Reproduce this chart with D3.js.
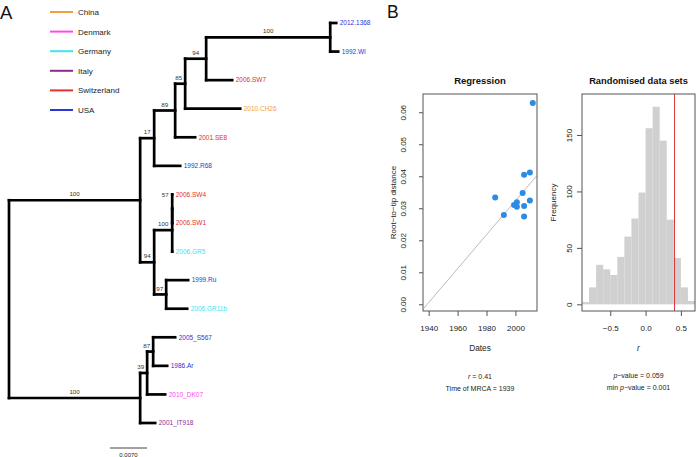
<!DOCTYPE html>
<html><head><meta charset="utf-8">
<script src="https://cdn.jsdelivr.net/npm/d3@7"></script>
<style>
body{margin:0;background:#fff}
svg{display:block;font-family:"Liberation Sans",Arial,Helvetica,sans-serif}
</style>
</head><body>
<svg id="c" width="696" height="457"></svg>
<script>
// ---------- DATA ----------
const treeNewick = "(((((((2012.1368:0.00114,1992.WI:0.00151)100:0.02346,2006.SW7:0.00492)94:0.00397,2010.CH26:0.01041)85:0.00189,2001.SE8:0.00378)89:0.00397,1992.R68:0.00492)17:0.00265,(((2006.SW4:0,2006.SW1:0)57:0,2006.GR5:0)100:0.00341,(1999.Ru:0.00416,2006.GR11b:0.00397)97:0.00227)94:0.00265)100:0.0248,(((2005_S567:0.00416,1986.Ar:0.00265)87:0.00114,2010_DK07:0.00341)39:0.00132,2001_IT918:0.00284)100:0.0248);";
const tipNames = ["2012.1368","1992.WI","2006.SW7","2010.CH26","2001.SE8","1992.R68","2006.SW4","2006.SW1","2006.GR5","1999.Ru","2006.GR11b","2005_S567","1986.Ar","2010_DK07","2001_IT918"];
const tipCountries = ["USA","USA","Switzerland","China","Switzerland","USA","Switzerland","Switzerland","Germany","USA","Germany","USA","USA","Denmark","Italy"];
const countries = ["China","Denmark","Germany","Italy","Switzerland","USA"];
const scaleBarLength = 0.0070;

const sampleYears = [2012, 1986, 1992, 1999, 2001, 2001, 2006, 2010, 2005, 2010, 2006, 2006];
const rootToTip   = [0.0629, 0.0334, 0.0279, 0.0310, 0.0319, 0.0305, 0.0405, 0.0412, 0.0348, 0.0324, 0.0307, 0.0274];
const yearTicks = [1940, 1960, 1980, 2000];
const distTicks = [0, 0.01, 0.02, 0.03, 0.04, 0.05, 0.06];
const mrcaYear = 1939;
const clockRate = 0.00053;
const correlationR = 0.41;

const binEdges  = [-0.9,-0.8,-0.7,-0.6,-0.5,-0.4,-0.3,-0.2,-0.1,0.0,0.1,0.2,0.3,0.4,0.5,0.6,0.7];
const binCounts = [2, 15, 35, 31, 26, 42, 60, 76, 99, 156, 175, 145, 75, 41, 15, 3];
const freqTicks = [0, 50, 100, 150];
const rTicks = [-0.5, 0.0, 0.5];
const pValue = 0.059;
const minPValue = 0.001;

// ---------- STYLE ----------
const palette = ["#f2a13a","#ff48f2","#3fe4f0","#8c2c90","#e2302b","#2a36d6"];
const colorOf = d3.scaleOrdinal(countries, palette);
const tipColor = new Map(tipNames.map((n,i)=>[n, colorOf(tipCountries[i])]));

const svg = d3.select("#c");

// ---------- Newick parser ----------
function parseNewick(s){
  let i = 0;
  function node(){
    const n = {children: []};
    if (s[i] === "("){
      i++;
      n.children.push(node());
      while (s[i] === ","){ i++; n.children.push(node()); }
      i++; // ')'
    }
    let label = "";
    while (i < s.length && !":,);".includes(s[i])) label += s[i++];
    let len = 0;
    if (s[i] === ":"){ i++; let num = ""; while (i < s.length && !",);".includes(s[i])) num += s[i++]; len = +num; }
    if (n.children.length) n.support = label; else { n.name = label; delete n.children; }
    n.length = len;
    return n;
  }
  return node();
}

// ---------- Panel A: tree ----------
const root = d3.hierarchy(parseNewick(treeNewick));
root.eachBefore(d => { d.cum = d.parent ? d.parent.cum + d.data.length : 0; });
const treeX = d3.scaleLinear().domain([0, 0.0624]).range([9, 339]);
const treeY = d3.scalePoint().domain(root.leaves().map(d=>d.data.name)).range([23, 423]);
root.eachAfter(d => {
  d.px = treeX(d.cum);
  d.py = d.children ? (d.children[0].py + d.children[d.children.length-1].py)/2 : treeY(d.data.name);
});

const gT = svg.append("g");
const branches = gT.append("g").attr("fill","none").attr("stroke","#000")
  .attr("stroke-width",2.7).attr("stroke-linecap","square");
root.descendants().forEach(d => {
  if (d.parent) branches.append("path").attr("d", `M${d.parent.px},${d.py}H${d.px}`);
  if (d.children) branches.append("path").attr("d", `M${d.px},${d.children[0].py}V${d.children[d.children.length-1].py}`);
});

// support labels
root.descendants().filter(d => d.parent && d.children && d.data.support).forEach(d => {
  const t = gT.append("text").attr("font-size",6.2).attr("fill","#333").text(d.data.support);
  if (d.data.length === 0){
    t.attr("x", d.px - 3.5).attr("y", d.children[0].py + 3).attr("text-anchor","end");
  } else {
    const w = t.node().getComputedTextLength();
    const mid = (d.parent.px + d.px)/2;
    const cx = Math.min(mid, d.px - 3 - w/2);
    t.attr("x", cx).attr("y", d.py - 3.8).attr("text-anchor","middle");
  }
});

// tip labels
gT.selectAll("text.tip").data(root.leaves()).join("text")
  .attr("class","tip")
  .attr("x", d => d.px + 3.5).attr("y", d => d.py + 2.3)
  .attr("font-size",6.5).attr("fill", d => tipColor.get(d.data.name))
  .text(d => d.data.name);

// legend
const legY = d3.scalePoint().domain(countries).range([12, 110]);
const leg = svg.append("g");
countries.forEach(c => {
  leg.append("line").attr("x1",50).attr("x2",73).attr("y1",legY(c)).attr("y2",legY(c))
    .attr("stroke",colorOf(c)).attr("stroke-width",2);
  leg.append("text").attr("x",78).attr("y",legY(c)+3).attr("font-size",8).attr("fill","#222").text(c);
});

// scale bar
const sbX = 110, sbY = 448;
svg.append("line").attr("x1",sbX).attr("x2",sbX + treeX(scaleBarLength) - treeX(0))
  .attr("y1",sbY).attr("y2",sbY).attr("stroke","#444").attr("stroke-width",1);
svg.append("text").attr("x", sbX + (treeX(scaleBarLength)-treeX(0))/2).attr("y",456.5)
  .attr("text-anchor","middle").attr("font-size",6).attr("fill","#222").text(d3.format(".4f")(scaleBarLength));

// panel letters
svg.append("text").attr("x",0).attr("y",18.5).attr("font-size",18.5).attr("fill","#111").text("A");
svg.append("text").attr("x",387).attr("y",17.5).attr("font-size",17.5).attr("fill","#111").text("B");

// ---------- Panel B1: regression ----------
const box1 = {x0:423, x1:537, y0:94, y1:311};
const yrPad = (d3.max(sampleYears) - mrcaYear) * 0.04;
const xS = d3.scaleLinear().domain([mrcaYear - yrPad, d3.max(sampleYears) + yrPad]).range([box1.x0, box1.x1]);
const yS = d3.scaleLinear().domain([-0.0021, 0.0657]).range([box1.y1, box1.y0]);
const g1 = svg.append("g");
g1.append("clipPath").attr("id","clip1").append("rect")
  .attr("x",box1.x0).attr("y",box1.y0).attr("width",box1.x1-box1.x0).attr("height",box1.y1-box1.y0);
const xd = xS.domain();
g1.append("line").attr("clip-path","url(#clip1)")
  .attr("x1", xS(xd[0])).attr("y1", yS(clockRate*(xd[0]-mrcaYear)))
  .attr("x2", xS(xd[1])).attr("y2", yS(clockRate*(xd[1]-mrcaYear)))
  .attr("stroke","#aaa").attr("stroke-width",0.8);
g1.selectAll("circle").data(sampleYears).join("circle")
  .attr("cx",(d)=>xS(d)).attr("cy",(d,i)=>yS(rootToTip[i])).attr("r",3).attr("fill","#2d8be6");
g1.append("rect").attr("x",box1.x0).attr("y",box1.y0).attr("width",box1.x1-box1.x0).attr("height",box1.y1-box1.y0)
  .attr("fill","none").attr("stroke","#555").attr("stroke-width",1);

function styleAxis(g){
  g.select(".domain").remove();
  g.selectAll("line").attr("stroke","#555");
  g.selectAll("text").attr("fill","#222").attr("font-size",8).attr("font-family",null);
}
const ax1 = g1.append("g").attr("transform",`translate(0,${box1.y1})`)
  .call(d3.axisBottom(xS).tickValues(yearTicks).tickSize(5).tickFormat(d3.format("d")));
styleAxis(ax1);
ax1.selectAll("text").attr("y",null).attr("dy",null).attr("transform","translate(0,20)");
const ay1 = g1.append("g").attr("transform",`translate(${box1.x0},0)`)
  .call(d3.axisLeft(yS).tickValues(distTicks).tickSize(4).tickFormat(d3.format(".2f")));
styleAxis(ay1);
ay1.selectAll("text").attr("x",null).attr("dy",null).attr("text-anchor","middle").attr("transform","translate(-17,0) rotate(-90)");

g1.append("text").attr("x",(box1.x0+box1.x1)/2).attr("y",83.5).attr("text-anchor","middle")
  .attr("font-size",9.5).attr("font-weight","bold").attr("fill","#111").text("Regression");
g1.append("text").attr("transform",`translate(396,${(box1.y0+box1.y1)/2}) rotate(-90)`).attr("text-anchor","middle")
  .attr("font-size",8).attr("fill","#222").text("Root\u2212to\u2212tip distance");
g1.append("text").attr("x",(box1.x0+box1.x1)/2).attr("y",351).attr("text-anchor","middle")
  .attr("font-size",8.3).attr("fill","#222").text("Dates");
const s1 = g1.append("text").attr("x",(box1.x0+box1.x1)/2).attr("y",378.5).attr("text-anchor","middle").attr("font-size",7).attr("fill","#222");
s1.append("tspan").attr("font-style","italic").text("r");
s1.append("tspan").text(" = " + d3.format(".2f")(correlationR));
g1.append("text").attr("x",(box1.x0+box1.x1)/2).attr("y",390.5).attr("text-anchor","middle").attr("font-size",7).attr("fill","#222")
  .text("Time of MRCA = " + mrcaYear);

// ---------- Panel B2: histogram ----------
const box2 = {x0:582, x1:695, y0:94, y1:311};
const xH = d3.scaleLinear().domain([binEdges[0], binEdges[binEdges.length-1]]).range([box2.x0, box2.x1]);
const yH = d3.scaleLinear().domain([-5.9, 186.3]).range([box2.y1, box2.y0]);
const g2 = svg.append("g");
g2.selectAll("rect.bar").data(binCounts).join("rect").attr("class","bar")
  .attr("x",(d,i)=>xH(binEdges[i])).attr("width",(d,i)=>xH(binEdges[i+1])-xH(binEdges[i]))
  .attr("y",d=>yH(d)).attr("height",d=>yH(0)-yH(d)).attr("fill","#d0d0d0");
g2.append("line").attr("x1",xH(correlationR)).attr("x2",xH(correlationR)).attr("y1",box2.y0).attr("y2",box2.y1)
  .attr("stroke","#d83a3a").attr("stroke-width",1);
g2.append("rect").attr("x",box2.x0).attr("y",box2.y0).attr("width",box2.x1-box2.x0).attr("height",box2.y1-box2.y0)
  .attr("fill","none").attr("stroke","#555").attr("stroke-width",1);
const ax2 = g2.append("g").attr("transform",`translate(0,${box2.y1})`)
  .call(d3.axisBottom(xH).tickValues(rTicks).tickSize(5).tickFormat(d3.format(".1f")));
styleAxis(ax2);
ax2.selectAll("text").attr("y",null).attr("dy",null).attr("transform","translate(0,20)");
const ay2 = g2.append("g").attr("transform",`translate(${box2.x0},0)`)
  .call(d3.axisLeft(yH).tickValues(freqTicks).tickSize(5).tickFormat(d3.format("d")));
styleAxis(ay2);
ay2.selectAll("text").attr("x",null).attr("dy",null).attr("text-anchor","middle").attr("transform","translate(-10,0) rotate(-90)");

const cx2 = (box2.x0+box2.x1)/2;
g2.append("text").attr("x",cx2).attr("y",83.5).attr("text-anchor","middle")
  .attr("font-size",9.3).attr("font-weight","bold").attr("fill","#111").text("Randomised data sets");
g2.append("text").attr("transform",`translate(556,${(box2.y0+box2.y1)/2}) rotate(-90)`).attr("text-anchor","middle")
  .attr("font-size",8).attr("fill","#222").text("Frequency");
g2.append("text").attr("x",cx2).attr("y",351).attr("text-anchor","middle")
  .attr("font-size",8.3).attr("font-style","italic").attr("fill","#222").text("r");
const p1 = g2.append("text").attr("x",cx2).attr("y",378).attr("text-anchor","middle").attr("font-size",7).attr("fill","#222");
p1.append("tspan").attr("font-style","italic").text("p");
p1.append("tspan").text("\u2212value = " + d3.format(".3f")(pValue));
const p2 = g2.append("text").attr("x",cx2).attr("y",390).attr("text-anchor","middle").attr("font-size",7).attr("fill","#222");
p2.append("tspan").text("min ");
p2.append("tspan").attr("font-style","italic").text("p");
p2.append("tspan").text("\u2212value = " + d3.format(".3f")(minPValue));
</script>
</body></html>
